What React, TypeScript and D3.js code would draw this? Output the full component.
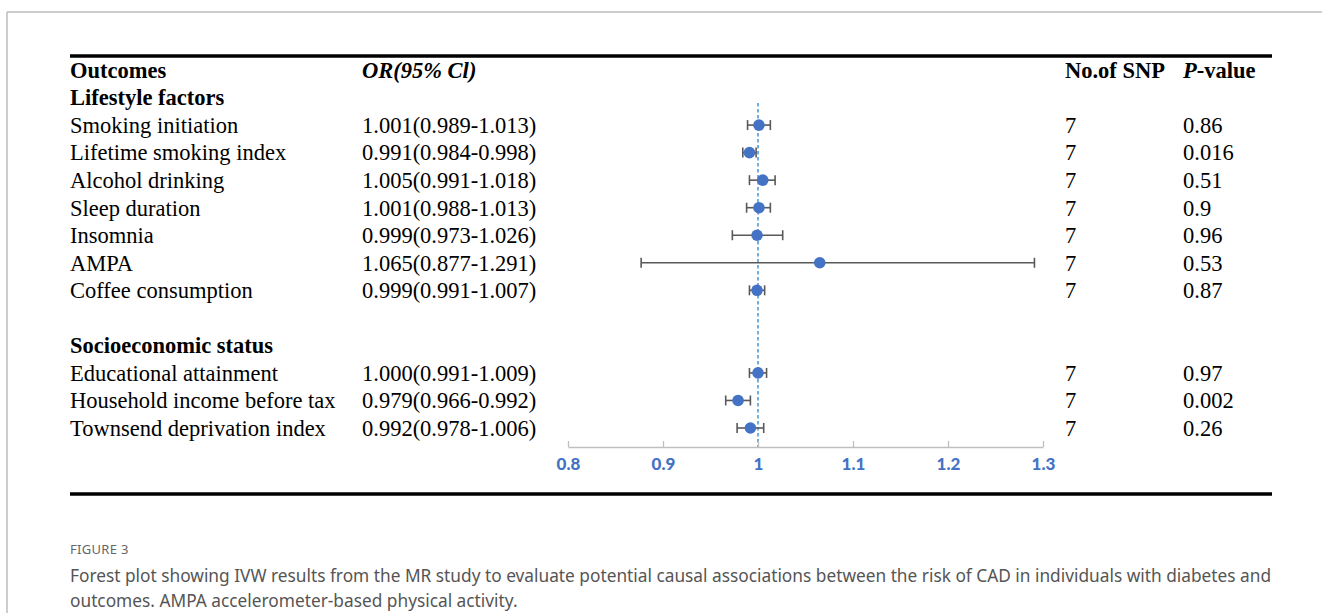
import React from "react";
import * as d3 from "d3";

const outcomes = [
  "Smoking initiation",
  "Lifetime smoking index",
  "Alcohol drinking",
  "Sleep duration",
  "Insomnia",
  "AMPA",
  "Coffee consumption",
  "Educational attainment",
  "Household income before tax",
  "Townsend deprivation index",
];
const groups = ["Lifestyle factors", "Lifestyle factors", "Lifestyle factors", "Lifestyle factors", "Lifestyle factors", "Lifestyle factors", "Lifestyle factors", "Socioeconomic status", "Socioeconomic status", "Socioeconomic status"];
const orValues = [1.001, 0.991, 1.005, 1.001, 0.999, 1.065, 0.999, 1.0, 0.979, 0.992];
const lowerCI = [0.989, 0.984, 0.991, 0.988, 0.973, 0.877, 0.991, 0.991, 0.966, 0.978];
const upperCI = [1.013, 0.998, 1.018, 1.013, 1.026, 1.291, 1.007, 1.009, 0.992, 1.006];
const snpCounts = [7, 7, 7, 7, 7, 7, 7, 7, 7, 7];
const pValues = ["0.86", "0.016", "0.51", "0.9", "0.96", "0.53", "0.87", "0.97", "0.002", "0.26"];
const xTicks = [0.8, 0.9, 1, 1.1, 1.2, 1.3];

const W = 1322;
const H = 613;
const serif = "'Liberation Serif', 'Times New Roman', serif";

// build the row layout: header, group title, rows, blank line between groups
type Row = { kind: "header" | "group" | "blank" | "data"; label?: string; i?: number };
const rows: Row[] = [{ kind: "header" }];
groups.forEach((g, i) => {
  if (i === 0 || groups[i - 1] !== g) {
    if (i > 0) rows.push({ kind: "blank" });
    rows.push({ kind: "group", label: g });
  }
  rows.push({ kind: "data", label: outcomes[i], i });
});

function fmt(v: number) {
  return v.toFixed(3);
}

function Axis({ x, y }: { x: d3.ScaleLinear<number, number>; y: number }) {
  const ref = React.useRef<SVGGElement>(null);
  React.useEffect(() => {
    const g = d3.select(ref.current);
    g.selectAll("*").remove();
    g.call(
      d3
        .axisBottom(x)
        .tickValues(xTicks)
        .tickSize(-6)
        .tickSizeOuter(0)
        .tickPadding(11)
        .tickFormat((d) => String(d))
    );
    g.select(".domain").attr("stroke", "#bfbfbf").attr("stroke-width", 1.3);
    g.selectAll(".tick line").attr("stroke", "#bfbfbf").attr("stroke-width", 1.3);
    g.selectAll(".tick text")
      .attr("fill", "#4472c4")
      .attr("font-family", "Lato, 'Open Sans', sans-serif")
      .attr("font-weight", "900")
      .attr("font-size", 17);
  }, [x]);
  return <g ref={ref} transform={`translate(0,${y})`} />;
}

export default function App() {
  const x = React.useMemo(() => d3.scaleLinear().domain([0.8, 1.3]).range([568, 1043]), []);
  const y = d3
    .scalePoint<number>()
    .domain(rows.map((_, k) => k))
    .range([70, 428]);
  const axisY = 447;
  const fs = 22.5;

  return (
    <svg width={W} height={H} style={{ position: "absolute", left: 0, top: 0, background: "#fff" }}>
      {/* card frame */}
      <line x1={7} x2={W} y1={12} y2={12} stroke="#bdbdbd" strokeWidth={1.5} />
      <line x1={7} x2={7} y1={12} y2={H} stroke="#bdbdbd" strokeWidth={1.5} />

      <line x1={70} x2={1272} y1={56} y2={56} stroke="#000" strokeWidth={3.5} />
      <line x1={70} x2={1272} y1={494} y2={494} stroke="#000" strokeWidth={3.5} />

      <g fontFamily={serif} fontSize={fs} fill="#000">
        {rows.map((r, k) => {
          const cy = y(k) as number;
          if (r.kind === "header") {
            return (
              <g key={k} fontWeight="bold">
                <text x={70} y={cy} dy="0.35em">Outcomes</text>
                <text x={362} y={cy} dy="0.35em" fontStyle="italic">OR(95% Cl)</text>
                <text x={1065} y={cy} dy="0.35em">No.of SNP</text>
                <text x={1183} y={cy} dy="0.35em">
                  <tspan fontStyle="italic">P</tspan>-value
                </text>
              </g>
            );
          }
          if (r.kind === "group") {
            return (
              <text key={k} x={70} y={cy} dy="0.35em" fontWeight="bold">
                {r.label}
              </text>
            );
          }
          if (r.kind === "blank") return null;
          const i = r.i as number;
          return (
            <g key={k}>
              <text x={70} y={cy} dy="0.35em">{r.label}</text>
              <text x={362} y={cy} dy="0.35em">
                {`${fmt(orValues[i])}(${fmt(lowerCI[i])}-${fmt(upperCI[i])})`}
              </text>
              <text x={1065} y={cy} dy="0.35em">{snpCounts[i]}</text>
              <text x={1183} y={cy} dy="0.35em">{pValues[i]}</text>
            </g>
          );
        })}
      </g>

      {/* reference line at OR = 1 */}
      <line
        x1={x(1)}
        x2={x(1)}
        y1={103}
        y2={axisY}
        stroke="#3c8dd0"
        strokeWidth={1.4}
        strokeDasharray="3.5,2.5"
      />

      {rows.map((r, k) => {
        if (r.kind !== "data") return null;
        const i = r.i as number;
        const cy = y(k) as number;
        return (
          <g key={k}>
            <line x1={x(lowerCI[i])} x2={x(upperCI[i])} y1={cy} y2={cy} stroke="#595959" strokeWidth={1.6} />
            <line x1={x(lowerCI[i])} x2={x(lowerCI[i])} y1={cy - 5} y2={cy + 5} stroke="#595959" strokeWidth={1.6} />
            <line x1={x(upperCI[i])} x2={x(upperCI[i])} y1={cy - 5} y2={cy + 5} stroke="#595959" strokeWidth={1.6} />
            <circle cx={x(orValues[i])} cy={cy} r={5.8} fill="#4472c4" />
          </g>
        );
      })}

      <Axis x={x} y={axisY} />

      <g fontFamily="'Noto Sans', sans-serif" fill="#555">
        <text x={70} y={549} dy="0.35em" fontSize={13} fill="#666" letterSpacing={0.3}>
          FIGURE 3
        </text>
        <text x={70} y={576} dy="0.35em" fontSize={17.3}>
          Forest plot showing IVW results from the MR study to evaluate potential causal associations between the risk of CAD in individuals with diabetes and
        </text>
        <text x={70} y={601} dy="0.35em" fontSize={17.3}>
          outcomes. AMPA accelerometer-based physical activity.
        </text>
      </g>
    </svg>
  );
}
